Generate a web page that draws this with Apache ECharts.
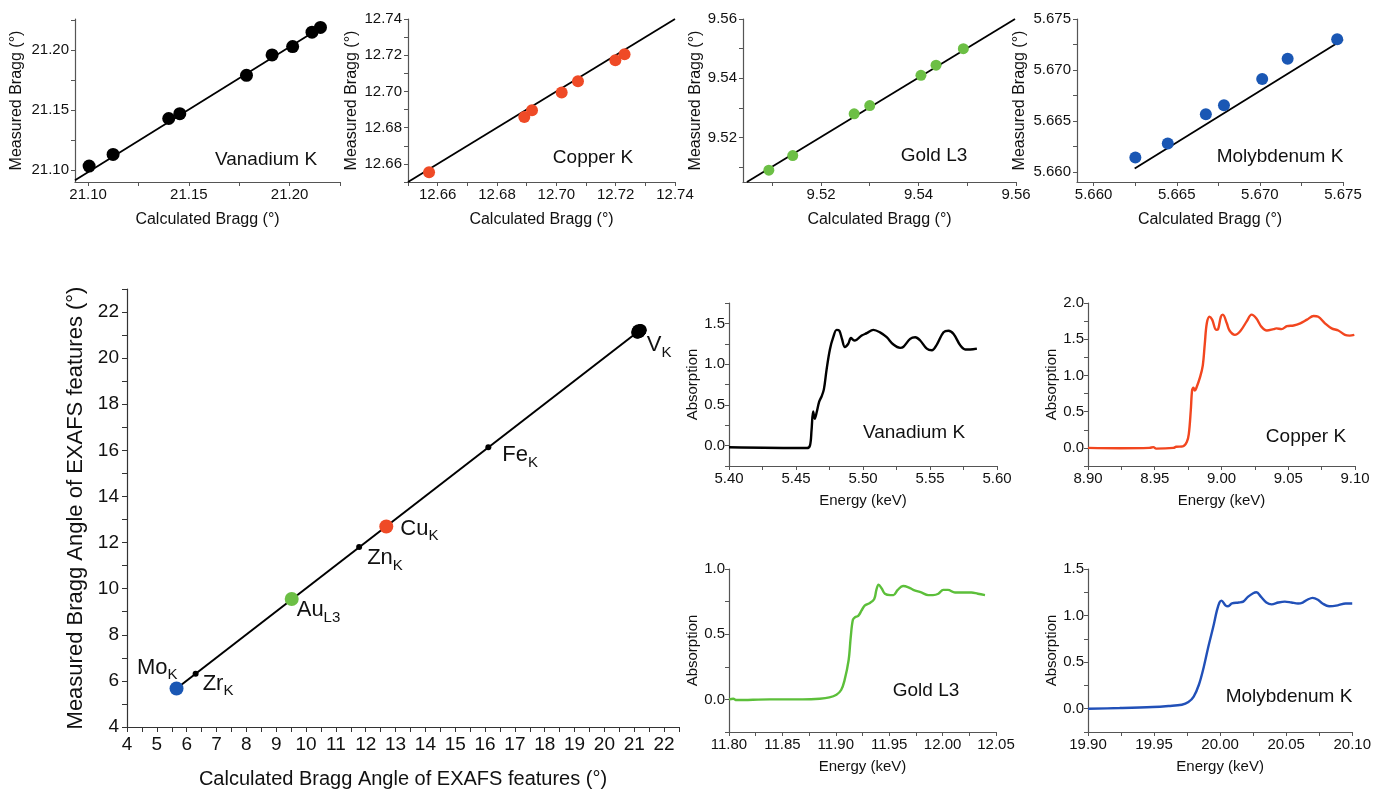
<!DOCTYPE html>
<html>
<head>
<meta charset="utf-8">
<script src="https://cdn.jsdelivr.net/npm/echarts@6/dist/echarts.min.js"></script>
<style>html,body{margin:0;padding:0;background:#fff}#c{width:1374px;height:794px}</style>
</head>
<body>
<div id="c"></div>
<script>
// ---------- calibration panels (calculated vs measured Bragg angle) ----------
const vCalc = [21.1005, 21.1124, 21.1400, 21.1455, 21.1786, 21.1913, 21.2015, 21.2111, 21.2153];
const vMeas = [21.1033, 21.1130, 21.1430, 21.1470, 21.1790, 21.1960, 21.2030, 21.2150, 21.2190];
const vFitX = [21.0935, 21.2175];
const vFitY = [21.0915, 21.2210];

const cuCalc = [12.6571, 12.6892, 12.6918, 12.7018, 12.7073, 12.7199, 12.7230];
const cuMeas = [12.6554, 12.6859, 12.6896, 12.6994, 12.7056, 12.7172, 12.7206];
const cuFitX = [12.650, 12.740];
const cuFitY = [12.650, 12.740];

const auCalc = [9.5093, 9.5142, 9.5268, 9.5300, 9.5405, 9.5436, 9.5492];
const auMeas = [9.5090, 9.5139, 9.5280, 9.5308, 9.5410, 9.5444, 9.5500];
const auFitX = [9.5048, 9.5598];
const auFitY = [9.5050, 9.5600];

const moCalc = [5.66251, 5.66446, 5.66675, 5.66784, 5.67014, 5.67167, 5.67465];
const moMeas = [5.66141, 5.66278, 5.66566, 5.66654, 5.66912, 5.67110, 5.67301];
const moFitX = [5.66247, 5.67500];
const moFitY = [5.66033, 5.67298];

// tick label values
const vTicks = [21.10, 21.15, 21.20];
const vMinor = [21.10, 21.125, 21.15, 21.175, 21.20, 21.225];
const cuTicks = [12.66, 12.68, 12.70, 12.72, 12.74];
const cuMinor = [12.65, 12.66, 12.67, 12.68, 12.69, 12.70, 12.71, 12.72, 12.73, 12.74];
const auTicks = [9.52, 9.54, 9.56];
const auMinor = [9.51, 9.52, 9.53, 9.54, 9.55, 9.56];
const moTicks = [5.660, 5.665, 5.670, 5.675];
const moMinor = [5.660, 5.6625, 5.665, 5.6675, 5.670, 5.6725, 5.675];

// ---------- main overview panel ----------
const edgeNames = ['Mo', 'Zr', 'Au', 'Zn', 'Cu', 'Fe', 'V'];
const edgeSubs  = ['K', 'K', 'L3', 'K', 'K', 'K', 'K'];
const edgeCalc  = [5.66, 6.30, 9.52, 11.78, 12.69, 16.11, 21.15];
const edgeMeas  = [5.67, 6.31, 9.55, 11.81, 12.70, 16.13, 21.17];
const mainFitX  = [5.66, 21.20];
const mainFitY  = [5.67, 21.22];
const mainXTicks = [4,5,6,7,8,9,10,11,12,13,14,15,16,17,18,19,20,21,22];
const mainXMinor = [4,4.5,5,5.5,6,6.5,7,7.5,8,8.5,9,9.5,10,10.5,11,11.5,12,12.5,13,13.5,14,14.5,15,15.5,16,16.5,17,17.5,18,18.5,19,19.5,20,20.5,21,21.5,22,22.5];
const mainYTicks = [4,6,8,10,12,14,16,18,20,22];
const mainYMinor = [4,5,6,7,8,9,10,11,12,13,14,15,16,17,18,19,20,21,22,23];

// ---------- absorption spectra ----------
const vE = [5.400,5.458,5.4604,5.4616,5.4628,5.4640,5.4653,5.4673,5.4690,5.4708,5.4728,5.4753,5.4778,5.4803,5.4823,5.4843,5.4865,5.4890,5.4910,5.4935,5.4953,5.4990,5.5028,5.5077,5.5127,5.5177,5.5227,5.5277,5.5300,5.5352,5.5390,5.5427,5.5476,5.5514,5.5551,5.5601,5.5638,5.5676,5.5726,5.5763,5.5800,5.5850];
const vA = [-0.02,-0.03,0.00,0.19,0.42,0.33,0.40,0.54,0.60,0.69,0.93,1.18,1.33,1.42,1.41,1.31,1.21,1.25,1.32,1.29,1.30,1.35,1.38,1.42,1.39,1.33,1.24,1.20,1.21,1.31,1.33,1.29,1.19,1.17,1.24,1.39,1.41,1.37,1.23,1.18,1.18,1.19];

const cuE = [8.900,8.924,8.946,8.949,8.951,8.964,8.966,8.971,8.974,8.9755,8.977,8.978,8.979,8.980,8.981,8.984,8.986,8.9875,8.989,8.991,8.993,8.996,8.9975,8.9995,9.001,9.004,9.006,9.010,9.014,9.019,9.0225,9.026,9.030,9.034,9.039,9.041,9.045,9.049,9.054,9.059,9.064,9.069,9.0725,9.0775,9.0825,9.0875,9.0925,9.096,9.0995];
const cuA = [0.00,-0.005,0.00,0.01,-0.01,0.00,0.015,0.02,0.08,0.19,0.52,0.80,0.83,0.79,0.82,0.98,1.14,1.44,1.72,1.81,1.77,1.63,1.64,1.81,1.84,1.72,1.62,1.56,1.61,1.75,1.84,1.79,1.67,1.62,1.64,1.65,1.64,1.68,1.69,1.72,1.77,1.82,1.81,1.72,1.65,1.62,1.56,1.55,1.56];

const auE = [11.800,11.804,11.807,11.838,11.869,11.885,11.894,11.9006,11.905,11.908,11.912,11.914,11.916,11.918,11.921,11.924,11.927,11.932,11.936,11.938,11.940,11.943,11.946,11.951,11.954,11.958,11.963,11.968,11.9725,11.980,11.9866,11.991,11.996,12.0006,12.005,12.0116,12.019,12.027,12.033,12.0397];
const auA = [0.00,0.005,-0.005,0.00,0.00,0.005,0.015,0.036,0.072,0.14,0.30,0.48,0.61,0.63,0.64,0.68,0.72,0.74,0.77,0.84,0.88,0.85,0.81,0.80,0.80,0.84,0.87,0.86,0.84,0.82,0.80,0.80,0.81,0.84,0.84,0.82,0.82,0.82,0.81,0.80];

const moE = [19.900,19.924,19.949,19.961,19.971,19.976,19.980,19.984,19.9875,19.991,19.995,19.9975,19.9995,20.001,20.004,20.006,20.009,20.014,20.0175,20.021,20.025,20.0275,20.031,20.035,20.039,20.044,20.049,20.054,20.059,20.0625,20.066,20.070,20.074,20.0775,20.0825,20.089,20.095,20.100];
const moA = [0.00,0.007,0.018,0.029,0.043,0.072,0.13,0.26,0.44,0.66,0.89,1.05,1.14,1.16,1.11,1.10,1.13,1.14,1.15,1.20,1.24,1.25,1.20,1.14,1.12,1.14,1.15,1.14,1.13,1.14,1.17,1.19,1.17,1.13,1.10,1.11,1.13,1.13];

const specXTicks = { v:[5.40,5.45,5.50,5.55,5.60], cu:[8.90,8.95,9.00,9.05,9.10], au:[11.80,11.85,11.90,11.95,12.00,12.05], mo:[19.90,19.95,20.00,20.05,20.10] };
const specXMinor = {
  v:[5.40,5.425,5.45,5.475,5.50,5.525,5.55,5.575,5.60],
  cu:[8.90,8.925,8.95,8.975,9.00,9.025,9.05,9.075,9.10],
  au:[11.80,11.825,11.85,11.875,11.90,11.925,11.95,11.975,12.00,12.025,12.05],
  mo:[19.90,19.925,19.95,19.975,20.00,20.025,20.05,20.075,20.10]
};
const specYTicks = { v:[0,0.5,1.0,1.5], cu:[0,0.5,1.0,1.5,2.0], au:[0,0.5,1.0], mo:[0,0.5,1.0,1.5] };
const specYMinor = {
  v:[-0.25,0,0.25,0.5,0.75,1.0,1.25,1.5,1.75],
  cu:[-0.25,0,0.25,0.5,0.75,1.0,1.25,1.5,1.75,2.0],
  au:[-0.25,0,0.25,0.5,0.75,1.0],
  mo:[-0.25,0,0.25,0.5,0.75,1.0,1.25,1.5]
};

// ---------- styling ----------
const FONT = '"Liberation Sans", Arial, Helvetica, sans-serif';
const TXT = '#111111';
const AX = '#555';
const COL = { black:'#000000', red:'#ef4a26', green:'#6cbf45', blue:'#1a57b4' };
const LINECOL = { v:'#000000', cu:'#f2461f', au:'#5cbf3a', mo:'#2150b8' };

const zip = (a, b) => a.map((v, i) => [v, b[i]]);

function axis(o) {
  return {
    type: 'value', gridIndex: o.g, min: o.min, max: o.max, scale: true,
    axisLine: { show: true, onZero: false, lineStyle: { color: o.lc || AX, width: o.lw || 1.2 } },
    axisTick: { show: true, customValues: o.minor, length: o.tl || 4, lineStyle: { color: o.lc || AX, width: 1 } },
    axisLabel: { customValues: o.ticks, formatter: v => v.toFixed(o.dec), fontSize: o.fs, color: TXT, fontFamily: FONT, margin: o.margin, hideOverlap: false },
    splitLine: { show: false },
    name: o.name, nameLocation: 'middle', nameGap: o.gap,
    nameTextStyle: { fontSize: o.nfs, color: TXT, fontFamily: FONT }
  };
}

const grids = [
  { left: 75,   top: 19,  width: 265, height: 163 },  // 0 V cal
  { left: 408,  top: 19,  width: 267, height: 163 },  // 1 Cu cal
  { left: 743,  top: 19,  width: 273, height: 163 },  // 2 Au cal
  { left: 1077, top: 19,  width: 266, height: 163 },  // 3 Mo cal
  { left: 127,  top: 289, width: 552, height: 443 },  // 4 main
  { left: 729,  top: 303, width: 268, height: 163 },  // 5 V spec
  { left: 1088, top: 303, width: 267, height: 163 },  // 6 Cu spec
  { left: 729,  top: 569, width: 267, height: 163 },  // 7 Au spec
  { left: 1088, top: 569, width: 267, height: 163 }   // 8 Mo spec
];

const calX = 'Calculated Bragg (°)', calY = 'Measured Bragg (°)';
const xAxes = [
  axis({ g:0, min:21.0935, max:21.225, ticks:vTicks, minor:vMinor, dec:2, fs:15, margin:5, name:calX, gap:30, nfs:16 }),
  axis({ g:1, min:12.65, max:12.74, ticks:cuTicks, minor:cuMinor, dec:2, fs:15, margin:5, name:calX, gap:30, nfs:16 }),
  axis({ g:2, min:9.504, max:9.56, ticks:auTicks, minor:auMinor, dec:2, fs:15, margin:5, name:calX, gap:30, nfs:16 }),
  axis({ g:3, min:5.659, max:5.675, ticks:moTicks, minor:moMinor, dec:3, fs:15, margin:5, name:calX, gap:30, nfs:16 }),
  axis({ g:4, min:4, max:22.5, ticks:mainXTicks, minor:mainXMinor, dec:0, fs:19, margin:8, name:'Calculated Bragg Angle of EXAFS features (°)', gap:42, nfs:20, lc:'#333', tl:5 }),
  axis({ g:5, min:5.40, max:5.60, ticks:specXTicks.v, minor:specXMinor.v, dec:2, fs:15, margin:5, name:'Energy (keV)', gap:27, nfs:15 }),
  axis({ g:6, min:8.90, max:9.10, ticks:specXTicks.cu, minor:specXMinor.cu, dec:2, fs:15, margin:5, name:'Energy (keV)', gap:27, nfs:15 }),
  axis({ g:7, min:11.80, max:12.05, ticks:specXTicks.au, minor:specXMinor.au, dec:2, fs:15, margin:5, name:'Energy (keV)', gap:27, nfs:15 }),
  axis({ g:8, min:19.90, max:20.10, ticks:specXTicks.mo, minor:specXMinor.mo, dec:2, fs:15, margin:5, name:'Energy (keV)', gap:27, nfs:15 })
];
const yAxes = [
  axis({ g:0, min:21.09, max:21.226, ticks:vTicks, minor:vMinor, dec:2, fs:15, margin:6, name:calY, gap:50, nfs:16 }),
  axis({ g:1, min:12.65, max:12.74, ticks:cuTicks, minor:cuMinor, dec:2, fs:15, margin:6, name:calY, gap:48, nfs:16 }),
  axis({ g:2, min:9.505, max:9.56, ticks:auTicks, minor:auMinor, dec:2, fs:15, margin:6, name:calY, gap:38, nfs:16 }),
  axis({ g:3, min:5.659, max:5.675, ticks:moTicks, minor:moMinor, dec:3, fs:15, margin:6, name:calY, gap:49, nfs:16 }),
  axis({ g:4, min:4, max:23, ticks:mainYTicks, minor:mainYMinor, dec:0, fs:19, margin:8, name:'Measured Bragg Angle of EXAFS features (°)', gap:40, nfs:22, lc:'#333', tl:5 }),
  axis({ g:5, min:-0.25, max:1.75, ticks:specYTicks.v, minor:specYMinor.v, dec:1, fs:15, margin:4, name:'Absorption', gap:28, nfs:15 }),
  axis({ g:6, min:-0.25, max:2.0, ticks:specYTicks.cu, minor:specYMinor.cu, dec:1, fs:15, margin:4, name:'Absorption', gap:28, nfs:15 }),
  axis({ g:7, min:-0.25, max:1.0, ticks:specYTicks.au, minor:specYMinor.au, dec:1, fs:15, margin:4, name:'Absorption', gap:28, nfs:15 }),
  axis({ g:8, min:-0.25, max:1.5, ticks:specYTicks.mo, minor:specYMinor.mo, dec:1, fs:15, margin:4, name:'Absorption', gap:28, nfs:15 })
];

function fitLine(i, xs, ys, w) {
  return { type:'line', xAxisIndex:i, yAxisIndex:i, data: zip(xs, ys), showSymbol:false, symbol:'none',
    lineStyle:{ color:'#000', width: w || 1.8 }, z:2, silent:true, animation:false };
}
function dots(i, xs, ys, color, size) {
  return { type:'scatter', xAxisIndex:i, yAxisIndex:i, data: zip(xs, ys), symbolSize:size,
    itemStyle:{ color: color, opacity:1 }, z:3, animation:false };
}
function spec(i, xs, ys, color) {
  return { type:'line', xAxisIndex:i, yAxisIndex:i, data: zip(xs, ys), showSymbol:false, symbol:'none',
    smooth:0.35, lineStyle:{ color: color, width:2.4 }, z:3, animation:false };
}

// styles / label placement for main panel markers
const edgeStyle = [
  { color: COL.blue,  size: 14, pos: 'left',  off: [13, -19] },
  { color: COL.black, size: 6,  pos: 'right', off: [-1, 12] },
  { color: COL.green, size: 14, pos: 'right', off: [-7, 13] },
  { color: COL.black, size: 6,  pos: 'right', off: [0, 13] },
  { color: COL.red,   size: 14, pos: 'right', off: [2, 4] },
  { color: COL.black, size: 6,  pos: 'right', off: [6, 10] },
  { color: COL.black, size: 14, pos: 'right', off: [-4, 16] }
];
const rich = {
  a: { fontSize: 22, lineHeight: 26, color: TXT, fontFamily: FONT, verticalAlign: 'top', opacity: 1 },
  b: { fontSize: 15, lineHeight: 16, color: TXT, fontFamily: FONT, verticalAlign: 'bottom', padding: [16, 0, 0, 0], opacity: 1 }
};
const mainData = edgeNames.map((n, i) => ({
  value: [edgeCalc[i], edgeMeas[i]],
  symbolSize: edgeStyle[i].size,
  itemStyle: { color: edgeStyle[i].color, opacity: 1 },
  label: { show: true, position: edgeStyle[i].pos, offset: edgeStyle[i].off, distance: 5, opacity: 1, color: TXT,
           formatter: '{a|' + n + '}{b|' + edgeSubs[i] + '}', rich: rich }
}));

const series = [
  fitLine(0, vFitX, vFitY), dots(0, vCalc, vMeas, COL.black, 13),
  fitLine(1, cuFitX, cuFitY), dots(1, cuCalc, cuMeas, COL.red, 12),
  fitLine(2, auFitX, auFitY), dots(2, auCalc, auMeas, COL.green, 11),
  fitLine(3, moFitX, moFitY), dots(3, moCalc, moMeas, COL.blue, 12),
  fitLine(4, mainFitX, mainFitY, 2),
  dots(4, vCalc, vMeas, COL.black, 12),
  { type:'scatter', xAxisIndex:4, yAxisIndex:4, data: mainData, itemStyle:{ opacity:1 }, z:4, animation:false },
  spec(5, vE, vA, LINECOL.v),
  spec(6, cuE, cuA, LINECOL.cu),
  spec(7, auE, auA, LINECOL.au),
  spec(8, moE, moA, LINECOL.mo)
];

function tag(text, x, y) {
  return { type:'text', x: x, y: y, silent:true,
    style:{ text: text, fill: TXT, font: '19px ' + FONT, textAlign:'center', textVerticalAlign:'middle', verticalAlign:'middle' } };
}
const graphic = [
  tag('Vanadium K', 266, 160), tag('Copper K', 593, 158), tag('Gold L3', 934, 156), tag('Molybdenum K', 1280, 157),
  tag('Vanadium K', 914, 433), tag('Copper K', 1306, 437), tag('Gold L3', 926, 691), tag('Molybdenum K', 1289, 697)
];

const chart = echarts.init(document.getElementById('c'), null, { renderer: 'canvas' });
chart.setOption({
  backgroundColor: '#ffffff',
  animation: false,
  textStyle: { fontFamily: FONT },
  grid: grids,
  xAxis: xAxes,
  yAxis: yAxes,
  series: series,
  graphic: graphic
});
</script>
</body>
</html>
